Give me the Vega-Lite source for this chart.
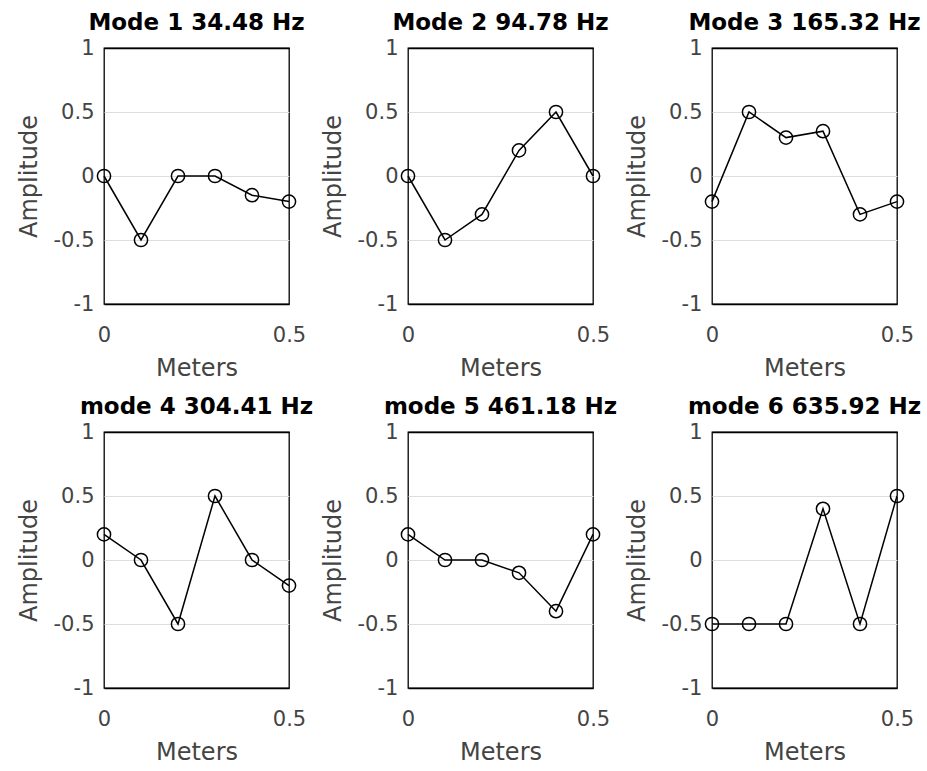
{
  "$schema": "https://vega.github.io/schema/vega-lite/v6.json",
  "background": "white",
  "padding": {"left": 16, "top": 11, "right": 5, "bottom": 5},
  "data": {
    "values": [
      {"title": "Mode 1 34.48 Hz", "x": 0.0, "y": 0.0},
      {"title": "Mode 1 34.48 Hz", "x": 0.1, "y": -0.5},
      {"title": "Mode 1 34.48 Hz", "x": 0.2, "y": 0.0},
      {"title": "Mode 1 34.48 Hz", "x": 0.3, "y": 0.0},
      {"title": "Mode 1 34.48 Hz", "x": 0.4, "y": -0.15},
      {"title": "Mode 1 34.48 Hz", "x": 0.5, "y": -0.2},
      {"title": "Mode 2 94.78 Hz", "x": 0.0, "y": 0.0},
      {"title": "Mode 2 94.78 Hz", "x": 0.1, "y": -0.5},
      {"title": "Mode 2 94.78 Hz", "x": 0.2, "y": -0.3},
      {"title": "Mode 2 94.78 Hz", "x": 0.3, "y": 0.2},
      {"title": "Mode 2 94.78 Hz", "x": 0.4, "y": 0.5},
      {"title": "Mode 2 94.78 Hz", "x": 0.5, "y": 0.0},
      {"title": "Mode 3 165.32 Hz", "x": 0.0, "y": -0.2},
      {"title": "Mode 3 165.32 Hz", "x": 0.1, "y": 0.5},
      {"title": "Mode 3 165.32 Hz", "x": 0.2, "y": 0.3},
      {"title": "Mode 3 165.32 Hz", "x": 0.3, "y": 0.35},
      {"title": "Mode 3 165.32 Hz", "x": 0.4, "y": -0.3},
      {"title": "Mode 3 165.32 Hz", "x": 0.5, "y": -0.2},
      {"title": "mode 4 304.41 Hz", "x": 0.0, "y": 0.2},
      {"title": "mode 4 304.41 Hz", "x": 0.1, "y": 0.0},
      {"title": "mode 4 304.41 Hz", "x": 0.2, "y": -0.5},
      {"title": "mode 4 304.41 Hz", "x": 0.3, "y": 0.5},
      {"title": "mode 4 304.41 Hz", "x": 0.4, "y": 0.0},
      {"title": "mode 4 304.41 Hz", "x": 0.5, "y": -0.2},
      {"title": "mode 5 461.18 Hz", "x": 0.0, "y": 0.2},
      {"title": "mode 5 461.18 Hz", "x": 0.1, "y": 0.0},
      {"title": "mode 5 461.18 Hz", "x": 0.2, "y": 0.0},
      {"title": "mode 5 461.18 Hz", "x": 0.3, "y": -0.1},
      {"title": "mode 5 461.18 Hz", "x": 0.4, "y": -0.4},
      {"title": "mode 5 461.18 Hz", "x": 0.5, "y": 0.2},
      {"title": "mode 6 635.92 Hz", "x": 0.0, "y": -0.5},
      {"title": "mode 6 635.92 Hz", "x": 0.1, "y": -0.5},
      {"title": "mode 6 635.92 Hz", "x": 0.2, "y": -0.5},
      {"title": "mode 6 635.92 Hz", "x": 0.3, "y": 0.4},
      {"title": "mode 6 635.92 Hz", "x": 0.4, "y": -0.5},
      {"title": "mode 6 635.92 Hz", "x": 0.5, "y": 0.5}
    ]
  },
  "facet": {
    "field": "title",
    "type": "nominal",
    "sort": ["Mode 1 34.48 Hz", "Mode 2 94.78 Hz", "Mode 3 165.32 Hz", "mode 4 304.41 Hz", "mode 5 461.18 Hz", "mode 6 635.92 Hz"],
    "header": {
      "title": null,
      "labelFont": "DejaVu Sans",
      "labelFontSize": 23,
      "labelFontWeight": "bold",
      "labelColor": "black",
      "labelPadding": 2
    }
  },
  "columns": 3,
  "spacing": {"column": 119, "row": 128},
  "bounds": "flush",
  "resolve": {"axis": {"x": "independent", "y": "independent"}},
  "spec": {
    "width": 185,
    "height": 256,
    "layer": [
      {
        "mark": {"type": "line", "color": "black", "strokeWidth": 1.5},
        "encoding": {
          "x": {"field": "x", "type": "quantitative"},
          "y": {"field": "y", "type": "quantitative"}
        }
      },
      {
        "mark": {"type": "point", "shape": "circle", "filled": false, "color": "black", "size": 175, "strokeWidth": 1.5, "opacity": 1},
        "encoding": {
          "x": {
            "field": "x", "type": "quantitative",
            "scale": {"domain": [0, 0.5], "nice": false, "zero": false},
            "axis": {"values": [0, 0.5], "title": "Meters", "grid": false,
              "labelExpr": "datum.value < 0 ? '-' + format(-datum.value, '~g') : format(datum.value, '~g')"}
          },
          "y": {
            "field": "y", "type": "quantitative",
            "scale": {"domain": [-1, 1], "nice": false},
            "axis": {"values": [-1, -0.5, 0, 0.5, 1], "title": "Amplitude", "grid": true,
              "gridColor": {"condition": {"test": "abs(datum.value) == 1", "value": "black"}, "value": "#dddddd"},
              "gridWidth": {"condition": {"test": "abs(datum.value) == 1", "value": 1.3}, "value": 1},
              "labelExpr": "datum.value < 0 ? '-' + format(-datum.value, '~g') : format(datum.value, '~g')"}
          }
        }
      }
    ]
  },
  "config": {
    "view": {"stroke": "black", "strokeWidth": 1.3},
    "axis": {
      "domain": false,
      "ticks": false,
      "labelFont": "DejaVu Sans",
      "labelFontSize": 21,
      "labelColor": "#444444",
      "labelFlush": false,
      "labelOverlap": false,
      "titleFont": "DejaVu Sans",
      "titleFontSize": 24,
      "titleFontWeight": "normal",
      "titleColor": "#444444"
    },
    "axisX": {"labelPadding": 20, "titlePadding": 11},
    "axisY": {"labelPadding": 10, "titlePadding": 12}
  }
}
